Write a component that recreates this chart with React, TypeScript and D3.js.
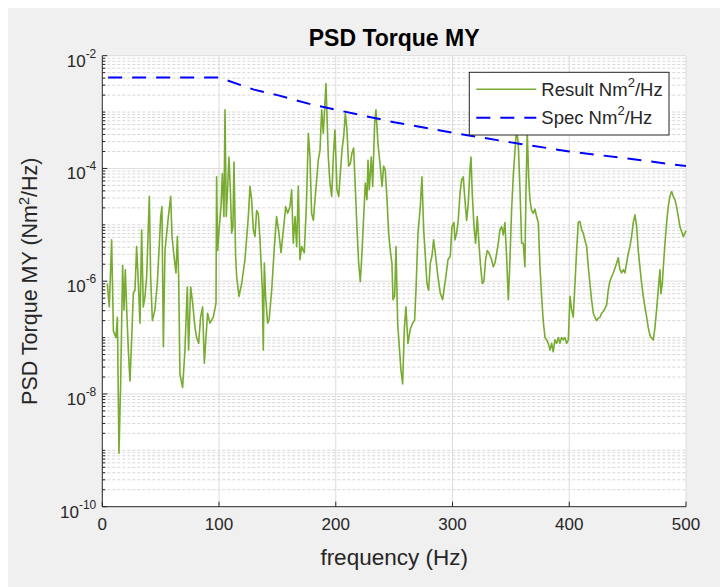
import React from "react";
import * as d3 from "d3";

// ---- data ----
const resultFreq = [
  4.3, 6.0, 8.0, 9.5, 11.7, 12.9, 14.3, 15.7, 17.4, 18.6,
  19.7, 20.9, 22.3, 23.7, 25.2, 26.6, 28.0, 29.4, 30.9, 32.3,
  33.7, 35.1, 36.6, 38.0, 40.3, 41.4, 42.9, 45.1, 47.1, 48.9,
  50.0, 51.1, 52.3, 53.7, 56.6, 58.6, 59.7, 61.4, 63.1, 64.3,
  65.4, 66.5, 68.8, 70.8, 72.8, 73.9, 75.7, 77.4, 79.4, 80.8,
  82.5, 84.2, 85.9, 87.4, 88.8, 90.2, 92.2, 95.1, 97.4, 97.9,
  98.8, 100.0, 101.7, 102.8, 104.2, 105.1, 106.2, 107.4, 108.5, 109.7,
  110.8, 111.9, 112.8, 114.2, 115.1, 117.1, 119.4, 122.2, 125.1, 126.5,
  127.9, 129.4, 130.8, 132.2, 133.6, 135.1, 137.1, 137.9, 138.8, 139.9,
  141.6, 142.8, 145.1, 147.4, 149.3, 151.3, 153.1, 155.1, 157.1, 158.8,
  160.8, 162.2, 163.6, 165.1, 166.5, 167.9, 169.3, 170.8, 173.0, 174.8,
  176.5, 177.9, 179.3, 180.8, 182.2, 185.0, 186.5, 187.9, 189.3, 190.7,
  191.6, 193.6, 195.0, 196.5, 197.9, 199.3, 201.0, 202.5, 203.9, 205.3,
  206.7, 208.2, 209.6, 211.0, 212.4, 213.9, 215.3, 216.7, 218.2, 219.6,
  221.0, 222.4, 223.9, 225.3, 226.7, 227.6, 228.7, 230.4, 231.6, 233.3,
  234.4, 236.1, 238.1, 239.6, 241.0, 242.4, 243.9, 245.3, 246.7, 248.1,
  249.0, 250.4, 251.6, 253.0, 254.4, 255.8, 257.3, 258.7, 260.1, 261.8,
  263.8, 265.8, 267.5, 268.7, 270.4, 272.4, 273.8, 275.3, 276.7, 278.1,
  279.5, 281.0, 282.4, 283.8, 285.2, 287.5, 289.5, 291.5, 293.8, 296.1,
  298.1, 299.5, 301.2, 302.1, 303.5, 304.9, 306.4, 307.8, 309.2, 310.6,
  312.1, 313.5, 314.9, 315.8, 316.9, 318.4, 319.8, 321.2, 322.6, 324.1,
  325.5, 326.9, 328.3, 329.8, 331.5, 333.5, 334.9, 336.3, 337.8, 339.2,
  340.6, 342.1, 343.5, 344.9, 346.3, 347.8, 349.2, 350.6, 352.0, 353.5,
  354.9, 356.3, 357.8, 359.2, 360.6, 362.0, 362.9, 364.0, 365.2, 366.3,
  367.7, 369.2, 370.6, 372.0, 373.5, 374.9, 376.3, 377.7, 379.2, 380.6,
  382.0, 383.5, 384.9, 386.3, 387.7, 389.2, 390.6, 392.0, 393.4, 394.9,
  396.3, 397.7, 399.2, 400.6, 402.0, 403.4, 404.9, 406.3, 407.7, 409.1,
  410.6, 412.0, 413.4, 414.9, 416.3, 417.7, 419.1, 420.6, 422.0, 423.4,
  424.9, 426.3, 427.7, 429.1, 430.6, 432.0, 433.4, 434.8, 436.3, 437.7,
  439.1, 440.6, 442.0, 443.4, 444.8, 446.3, 447.7, 449.1, 450.5, 452.0,
  453.4, 454.8, 456.3, 457.7, 459.1, 460.5, 462.0, 463.4, 464.8, 466.3,
  467.7, 469.1, 470.5, 472.0, 473.4, 474.8, 476.2, 477.7, 478.5, 479.7,
  480.8, 482.0, 483.4, 484.8, 486.2, 487.7, 489.1, 490.5, 491.9, 493.4,
  494.8, 496.2, 497.7, 499.1, 500.0,
];

const resultPsd = [
  9.1e-7, 3.5e-7, 5.4e-6, 1.3e-7, 1.0e-7, 2.3e-7, 8.9e-10, 1.5e-8, 1.9e-6, 3.1e-7,
  1.6e-6, 3.1e-7, 6.0e-8, 1.7e-8, 1.0e-7, 6.2e-7, 6.9e-7, 4.1e-6, 9.1e-7, 1.8e-7,
  8.1e-6, 3.5e-7, 5.4e-7, 1.2e-6, 3.2e-5, 1.2e-6, 2.0e-7, 3.1e-7, 9.1e-7, 4.7e-6,
  1.4e-5, 2.1e-5, 6.9e-8, 3.5e-6, 1.4e-5, 3.2e-5, 6.2e-6, 2.8e-6, 1.4e-6, 6.2e-6,
  1.2e-6, 2.3e-8, 1.3e-8, 6.0e-8, 7.9e-7, 6.0e-8, 7.9e-7, 4.1e-7, 1.5e-7, 1.0e-7,
  7.9e-8, 2.3e-7, 3.5e-7, 3.5e-8, 1.0e-7, 2.7e-7, 1.8e-7, 2.3e-7, 4.1e-7, 7.1e-5,
  3.5e-6, 8.1e-6, 2.1e-5, 8.1e-5, 1.4e-5, 1.1e-3, 1.4e-5, 4.8e-5, 1.6e-4, 4.2e-5,
  7.1e-6, 9.3e-6, 1.3e-4, 2.8e-6, 1.2e-6, 5.4e-7, 9.1e-7, 2.4e-6, 1.4e-5, 4.8e-5,
  2.8e-5, 8.1e-6, 6.2e-6, 1.8e-5, 1.6e-5, 5.4e-6, 6.9e-7, 6.0e-8, 2.1e-6, 5.4e-7,
  1.8e-7, 2.0e-7, 6.9e-7, 4.1e-6, 1.4e-5, 7.1e-6, 3.2e-6, 8.1e-6, 2.1e-5, 1.6e-5,
  2.1e-5, 4.2e-5, 4.7e-6, 1.4e-5, 4.1e-6, 4.8e-5, 2.4e-6, 4.1e-6, 3.2e-6, 2.1e-5,
  4.2e-4, 1.6e-4, 1.6e-5, 1.2e-5, 2.8e-5, 1.4e-4, 2.1e-4, 1.1e-3, 4.2e-4, 1.4e-3,
  3.2e-3, 1.6e-4, 5.5e-5, 3.2e-5, 1.6e-4, 4.8e-4, 4.2e-5, 3.2e-5, 8.1e-5, 2.1e-4,
  3.6e-4, 9.5e-4, 4.8e-4, 1.1e-4, 1.2e-4, 1.9e-4, 2.3e-4, 4.8e-5, 8.1e-6, 2.1e-6,
  9.8e-7, 3.1e-6, 1.4e-5, 5.5e-5, 2.8e-5, 1.4e-4, 4.2e-5, 1.6e-4, 4.8e-5, 6.3e-4,
  1.1e-3, 2.8e-4, 1.1e-4, 4.8e-5, 1.1e-4, 9.3e-5, 2.8e-5, 7.1e-6, 3.5e-6, 2.1e-6,
  4.7e-7, 5.4e-7, 4.1e-6, 1.8e-7, 6.9e-8, 2.7e-8, 1.5e-8, 1.4e-7, 3.5e-7, 7.9e-8,
  1.4e-7, 1.8e-7, 2.0e-7, 6.9e-7, 7.1e-6, 2.1e-5, 7.1e-5, 8.1e-6, 2.8e-6, 9.1e-7,
  6.9e-7, 2.1e-6, 2.8e-6, 5.4e-6, 3.2e-6, 1.2e-6, 6.2e-7, 4.7e-7, 1.0e-6, 2.4e-6,
  2.8e-6, 9.3e-6, 1.1e-5, 5.4e-6, 7.1e-6, 1.2e-5, 3.6e-5, 6.3e-5, 7.1e-5, 2.8e-5,
  1.2e-5, 2.4e-5, 9.3e-5, 1.6e-4, 3.6e-5, 9.3e-6, 4.7e-6, 1.4e-5, 4.7e-6, 1.8e-6,
  9.1e-7, 1.0e-6, 2.4e-6, 3.5e-6, 3.1e-6, 2.4e-6, 1.8e-6, 2.1e-6, 3.1e-6, 4.7e-6,
  8.1e-6, 9.3e-6, 6.6e-6, 1.1e-5, 2.8e-6, 4.7e-7, 2.4e-6, 1.8e-5, 7.1e-5, 2.1e-4,
  5.0e-4, 2.8e-4, 4.2e-5, 4.7e-6, 4.7e-6, 1.8e-6, 3.6e-5, 4.5e-4, 7.1e-5, 2.8e-5,
  1.8e-5, 1.6e-5, 1.9e-5, 1.4e-5, 1.1e-5, 1.8e-6, 5.4e-7, 2.0e-7, 1.0e-7, 9.1e-8,
  7.9e-8, 6.0e-8, 7.9e-8, 5.6e-8, 9.1e-8, 7.9e-8, 1.0e-7, 7.9e-8, 1.0e-7, 9.1e-8,
  1.0e-7, 7.9e-8, 9.1e-8, 5.4e-7, 3.1e-7, 2.3e-7, 9.1e-7, 3.5e-6, 1.1e-5, 1.15e-5,
  8.1e-6, 7.1e-6, 5.4e-6, 4.1e-6, 1.8e-6, 9.1e-7, 4.7e-7, 2.7e-7, 2.3e-7, 2.0e-7,
  2.2e-7, 2.3e-7, 2.7e-7, 2.9e-7, 3.3e-7, 3.8e-7, 6.9e-7, 1.0e-6, 1.2e-6, 1.4e-6,
  1.7e-6, 2.1e-6, 2.6e-6, 1.6e-6, 1.4e-6, 1.6e-6, 1.4e-6, 2.1e-6, 3.1e-6, 4.1e-6,
  6.2e-6, 1.1e-5, 1.5e-5, 9.3e-6, 3.5e-6, 1.8e-6, 9.1e-7, 5.4e-7, 3.5e-7, 2.3e-7,
  1.5e-7, 1.1e-7, 9.8e-8, 9.1e-8, 1.5e-7, 3.1e-7, 6.9e-7, 1.6e-6, 6.0e-7, 9.1e-7,
  2.1e-6, 4.7e-6, 1.1e-5, 2.1e-5, 3.2e-5, 3.9e-5, 3.2e-5, 2.8e-5, 2.1e-5, 1.4e-5,
  9.3e-6, 7.6e-6, 6.2e-6, 7.1e-6, 7.9e-6,
];

const specFreq = [5, 100, 130, 150, 180, 200, 250, 300, 350, 400, 450, 500];
const specPsd = [4.1e-3, 4.1e-3, 2.5e-3, 2.0e-3, 1.35e-3, 1.1e-3, 6.6e-4, 4.3e-4, 2.9e-4, 2.0e-4, 1.5e-4, 1.1e-4];

const xTicks = [0, 100, 200, 300, 400, 500];
const yTickExponents = [-10, -8, -6, -4, -2];

const titleText = "PSD Torque MY";
const xLabelText = "frequency (Hz)";
const yLabelMain = "PSD Torque MY (Nm";
const legendResult = "Result Nm";
const legendSpec = "Spec Nm";

// ---- layout ----
const W = 712;
const H = 579;
const M = { left: 94.3, right: 678, top: 47.7, bottom: 498.7 };
const FONT = "'Liberation Sans', Arial, Helvetica, sans-serif";
const AX = "#262626";
const GREEN = "#77AC30";
const BLUE = "#0000FF";

export default function App() {
  const x = d3.scaleLinear().domain([0, 500]).range([M.left, M.right]);
  const y = d3.scaleLog().domain([1e-10, 1e-2]).range([M.bottom, M.top]);

  const resultData = resultFreq.map((f, i) => [f, resultPsd[i]] as [number, number]);
  const specData = specFreq.map((f, i) => [f, specPsd[i]] as [number, number]);
  const line = d3
    .line<[number, number]>()
    .x((d) => x(d[0]))
    .y((d) => y(d[1]));

  const majorY: number[] = [];
  const minorY: number[] = [];
  for (let k = -10; k <= -3; k++) {
    for (let m = 1; m <= 9; m++) {
      const v = m * Math.pow(10, k);
      if (m === 1 && k % 2 === 0) majorY.push(v);
      else minorY.push(v);
    }
  }
  majorY.push(1e-2);

  const legX = 461.3;
  const legY = 64.3;
  const legW = 199.7;
  const legH = 62.7;

  return (
    <svg
      width={W}
      height={H}
      style={{ position: "fixed", left: 8, top: 8, display: "block" }}
      fontFamily={FONT}
    >
      <rect x={0} y={0} width={W} height={H} fill="#f0f0f0" />
      <rect x={M.left} y={M.top} width={M.right - M.left} height={M.bottom - M.top} fill="#ffffff" />

      {/* minor grid */}
      {minorY.map((v, i) => (
        <line
          key={"mg" + i}
          x1={M.left}
          x2={M.right}
          y1={y(v)}
          y2={y(v)}
          stroke="#d6d6d6"
          strokeWidth={1}
          strokeDasharray="3,2"
        />
      ))}
      {/* major grid */}
      {majorY.filter((v) => v > 1e-10).map((v, i) => (
        <line key={"Mg" + i} x1={M.left} x2={M.right} y1={y(v)} y2={y(v)} stroke="#dcdcdc" strokeWidth={1} />
      ))}
      {xTicks.filter((t) => t > 0).map((t) => (
        <line key={"vg" + t} x1={x(t)} x2={x(t)} y1={M.top} y2={M.bottom} stroke="#dcdcdc" strokeWidth={1} />
      ))}

      {/* series */}
      <path d={line(resultData) || ""} fill="none" stroke={GREEN} strokeWidth={1.6} strokeLinejoin="round" />
      <path d={line(specData) || ""} fill="none" stroke={BLUE} strokeWidth={2} strokeDasharray="14,10" />

      {/* axes */}
      <line x1={M.left} x2={M.left} y1={M.top} y2={M.bottom} stroke={AX} strokeWidth={1} />
      <line x1={M.left} x2={M.right} y1={M.bottom} y2={M.bottom} stroke={AX} strokeWidth={1} />
      {xTicks.map((t) => (
        <g key={"xt" + t}>
          <line x1={x(t)} x2={x(t)} y1={M.bottom} y2={M.bottom - 5} stroke={AX} strokeWidth={1} />
          <text x={x(t)} y={M.bottom + 23} textAnchor="middle" fontSize={17} fill={AX}>
            {t}
          </text>
        </g>
      ))}
      {minorY.map((v, i) => (
        <line key={"ymt" + i} x1={M.left} x2={M.left + 3} y1={y(v)} y2={y(v)} stroke={AX} strokeWidth={1} />
      ))}
      {yTickExponents.map((e) => {
        const yy = y(Math.pow(10, e));
        return (
          <g key={"yt" + e}>
            <line x1={M.left} x2={M.left + 5} y1={yy} y2={yy} stroke={AX} strokeWidth={1} />
            <text x={M.left - 6} y={yy + 11} textAnchor="end" fontSize={17} fill={AX}>
              10
              <tspan dy={-9} fontSize={12}>
                {String(e)}
              </tspan>
            </text>
          </g>
        );
      })}

      {/* title and labels */}
      <text x={(M.left + M.right) / 2} y={38} textAnchor="middle" fontSize={23} fontWeight="bold" fill="#000">
        {titleText}
      </text>
      <text x={(M.left + M.right) / 2} y={557} textAnchor="middle" fontSize={22.5} fill={AX}>
        {xLabelText}
      </text>
      <text
        transform={`translate(29, ${(M.top + M.bottom) / 2}) rotate(-90)`}
        textAnchor="middle"
        fontSize={21.5}
        fill={AX}
      >
        {yLabelMain}
        <tspan dy={-8} fontSize={14.5}>2</tspan>
        <tspan dy={8}>/Hz)</tspan>
      </text>

      {/* legend */}
      <rect x={legX} y={legY} width={legW} height={legH} fill="#ffffff" stroke={AX} strokeWidth={1} />
      <line x1={legX + 7} x2={legX + 67} y1={legY + 17} y2={legY + 17} stroke={GREEN} strokeWidth={1.6} />
      <text x={legX + 72} y={legY + 24} fontSize={18.5} fill={AX}>
        {legendResult}
        <tspan dy={-9} fontSize={13}>2</tspan>
        <tspan dy={9}>/Hz</tspan>
      </text>
      <line
        x1={legX + 7}
        x2={legX + 67}
        y1={legY + 45.5}
        y2={legY + 45.5}
        stroke={BLUE}
        strokeWidth={2}
        strokeDasharray="14,10"
      />
      <text x={legX + 72} y={legY + 52} fontSize={18.5} fill={AX}>
        {legendSpec}
        <tspan dy={-9} fontSize={13}>2</tspan>
        <tspan dy={9}>/Hz</tspan>
      </text>
    </svg>
  );
}
